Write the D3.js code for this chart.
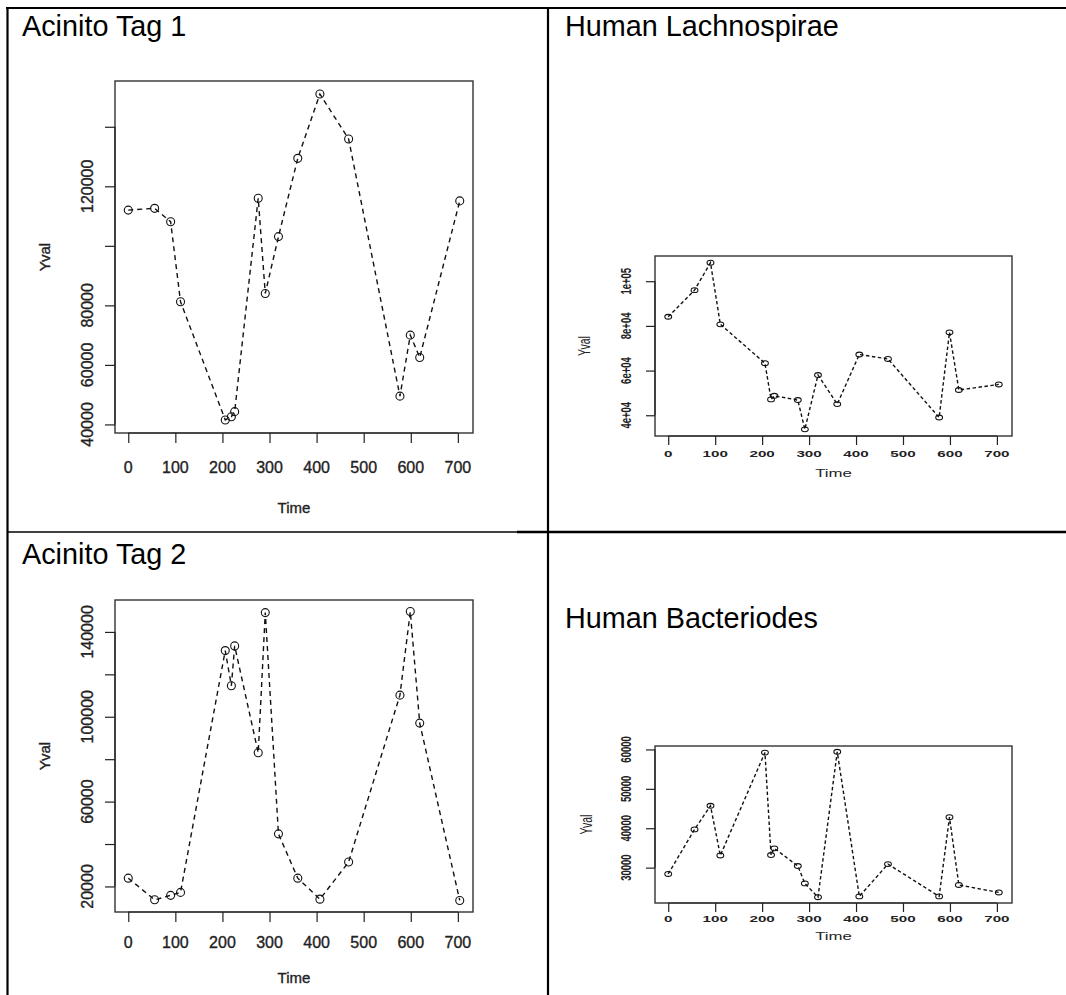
<!DOCTYPE html>
<html>
<head>
<meta charset="utf-8">
<script src="https://cdn.jsdelivr.net/npm/d3@7"></script>
<style>
  html, body { margin: 0; padding: 0; background: #fff; }
  svg { display: block; font-family: "Liberation Sans", Arial, sans-serif; }
</style>
</head>
<body>
<svg id="chart" width="1066" height="995"></svg>
<script>
// Sampling times shared by all four series
const times = [0, 56, 90, 111, 206, 219, 226, 276, 291, 319, 360, 407, 468, 577, 599, 619, 704];

// Series values
const acinitoTag1       = [112000, 112600, 108100, 81200, 41500, 42600, 44300, 116000, 84000, 103100, 129400, 151000, 135900, 49500, 70000, 62500, 115100];
const humanLachnospirae = [84100, 96000, 108300, 80700, 63300, 47100, 48700, 46800, 33700, 58000, 45000, 67200, 65200, 39000, 77100, 51300, 53800];
const acinitoTag2       = [23900, 13700, 15800, 17200, 131200, 114600, 133400, 83000, 149100, 44800, 23900, 14000, 31500, 110200, 149600, 97000, 13400];
const humanBacteriodes  = [28400, 39700, 45700, 33100, 59200, 33200, 34900, 30400, 26000, 22500, 59400, 22700, 30900, 22700, 42800, 25600, 23700];

// Axis ticks and their printed labels (empty string = tick without label)
const xTicks = [0, 100, 200, 300, 400, 500, 600, 700];
const yTicksTag1 = [40000, 60000, 80000, 100000, 120000, 140000];
const yLabelsTag1 = ["40000", "60000", "80000", "", "120000", ""];
const yTicksLachno = [40000, 60000, 80000, 100000];
const yLabelsLachno = ["4e+04", "6e+04", "8e+04", "1e+05"];
const yTicksTag2 = [20000, 40000, 60000, 80000, 100000, 120000, 140000];
const yLabelsTag2 = ["20000", "", "60000", "", "100000", "", "140000"];
const yTicksBact = [30000, 40000, 50000, 60000];
const yLabelsBact = ["30000", "40000", "50000", "60000"];

const panelTitles = ["Acinito Tag 1", "Human Lachnospirae", "Acinito Tag 2", "Human Bacteriodes"];
const xAxisTitle = "Time";
const yAxisTitle = "Yval";

const svg = d3.select("#chart");

// ---- table grid ----
const grid = svg.append("g").attr("stroke", "#000");
grid.append("line").attr("x1", 6).attr("x2", 1066).attr("y1", 8).attr("y2", 8).attr("stroke-width", 2.2);
grid.append("line").attr("x1", 7.5).attr("x2", 7.5).attr("y1", 7).attr("y2", 995).attr("stroke-width", 2.2);
grid.append("line").attr("x1", 548).attr("x2", 548).attr("y1", 7).attr("y2", 995).attr("stroke-width", 2.2);
grid.append("line").attr("x1", 7).attr("x2", 517).attr("y1", 532).attr("y2", 532).attr("stroke-width", 1.6);
grid.append("line").attr("x1", 517).attr("x2", 1066).attr("y1", 532).attr("y2", 532).attr("stroke-width", 2.4);

// ---- cell titles ----
const titlePos = [[22, 36], [565, 36], [22, 564], [565, 628]];
panelTitles.forEach((t, i) => {
  svg.append("text")
    .attr("x", titlePos[i][0]).attr("y", titlePos[i][1])
    .attr("font-size", 28.8).attr("fill", "#000")
    .text(t);
});

// R-style axis range: data extent padded by 4% on each side
function padded(values) {
  const [lo, hi] = d3.extent(values);
  const d = (hi - lo) * 0.04;
  return [lo - d, hi + d];
}

function drawPanel(cfg) {
  const g = svg.append("g");
  const x = d3.scaleLinear().domain(padded(times)).range([cfg.left, cfg.right]);
  const y = d3.scaleLinear().domain(padded(cfg.values)).range([cfg.bottom, cfg.top]);
  const sx = cfg.stretch;
  const ink = "#222";

  // plot box
  g.append("rect")
    .attr("x", cfg.left).attr("y", cfg.top)
    .attr("width", cfg.right - cfg.left).attr("height", cfg.bottom - cfg.top)
    .attr("fill", "none").attr("stroke", "#333").attr("stroke-width", 1.4);

  // x axis
  const xa = g.append("g").attr("transform", `translate(0,${cfg.bottom})`)
    .call(d3.axisBottom(x).tickValues(xTicks).tickSize(cfg.tick).tickFormat(""));
  xa.select(".domain").attr("d", `M${x(xTicks[0])},0H${x(xTicks[xTicks.length - 1])}`)
    .attr("stroke", ink).attr("stroke-width", 1.2);
  xa.selectAll(".tick line").attr("stroke", ink).attr("stroke-width", 1.2);
  xTicks.forEach(v => {
    g.append("text")
      .attr("transform", `translate(${x(v)},${cfg.bottom + cfg.xLabOff}) scale(${sx},1)`)
      .attr("text-anchor", "middle").attr("font-size", cfg.fs)
      .attr("font-weight", cfg.weight).attr("fill", ink)
      .attr("stroke", ink).attr("stroke-width", cfg.textStroke)
      .text(String(v));
  });

  // y axis
  const ya = g.append("g").attr("transform", `translate(${cfg.left},0)`)
    .call(d3.axisLeft(y).tickValues(cfg.yTicks).tickSize(cfg.tick).tickFormat(""));
  ya.select(".domain").attr("d", `M0,${y(cfg.yTicks[0])}V${y(cfg.yTicks[cfg.yTicks.length - 1])}`)
    .attr("stroke", ink).attr("stroke-width", 1.2);
  ya.selectAll(".tick line").attr("stroke", ink).attr("stroke-width", 1.2);
  cfg.yTicks.forEach((v, i) => {
    if (!cfg.yLabels[i]) return;
    g.append("text")
      .attr("transform", `translate(${cfg.yLabX},${y(v)}) scale(${sx},1) rotate(-90)`)
      .attr("text-anchor", "middle").attr("font-size", cfg.fs)
      .attr("font-weight", cfg.weight).attr("fill", ink)
      .attr("stroke", ink).attr("stroke-width", cfg.textStroke)
      .text(cfg.yLabels[i]);
  });

  // axis titles
  g.append("text")
    .attr("transform", `translate(${(cfg.left + cfg.right) / 2},${cfg.bottom + cfg.titleOff}) scale(${sx},1)`)
    .attr("text-anchor", "middle").attr("font-size", cfg.tfs).attr("fill", ink)
    .attr("stroke", ink).attr("stroke-width", cfg.textStroke)
    .text(xAxisTitle);
  g.append("text")
    .attr("transform", `translate(${cfg.yTitleX},${(cfg.top + cfg.bottom) / 2}) scale(${sx},1) rotate(-90)`)
    .attr("text-anchor", "middle").attr("font-size", cfg.tfs).attr("fill", ink)
    .attr("stroke", ink).attr("stroke-width", cfg.textStroke)
    .text(yAxisTitle);

  // dashed series line
  const pts = times.map((t, i) => [t, cfg.values[i]]);
  g.append("path")
    .datum(pts)
    .attr("d", d3.line().x(d => x(d[0])).y(d => y(d[1])))
    .attr("fill", "none").attr("stroke", "#111")
    .attr("stroke-width", cfg.lw).attr("stroke-dasharray", cfg.dash);

  // open point markers
  g.selectAll("ellipse.pt").data(pts).join("ellipse")
    .attr("class", "pt")
    .attr("cx", d => x(d[0])).attr("cy", d => y(d[1]))
    .attr("rx", cfg.rx).attr("ry", cfg.ry)
    .attr("fill", "none").attr("stroke", "#111").attr("stroke-width", 1.1);
}

const bigStyle = { stretch: 1, fs: 16, tfs: 15, weight: "normal", textStroke: 0.35, tick: 10, lw: 1.4, dash: "5,4", rx: 4, ry: 4 };
const smallStyle = { stretch: 1.6, fs: 9.5, tfs: 10.5, weight: "bold", textStroke: 0, tick: 9, lw: 1.4, dash: "3.5,2.5", rx: 3.4, ry: 2.4 };

drawPanel(Object.assign({}, bigStyle, {
  values: acinitoTag1, yTicks: yTicksTag1, yLabels: yLabelsTag1,
  left: 115, right: 473, top: 81, bottom: 433,
  xLabOff: 40, titleOff: 79.5, yLabX: 92.5, yTitleX: 50
}));
drawPanel(Object.assign({}, smallStyle, {
  values: humanLachnospirae, yTicks: yTicksLachno, yLabels: yLabelsLachno,
  left: 655, right: 1012, top: 256, bottom: 436,
  xLabOff: 20.5, titleOff: 41, yLabX: 631, yTitleX: 590
}));
drawPanel(Object.assign({}, bigStyle, {
  values: acinitoTag2, yTicks: yTicksTag2, yLabels: yLabelsTag2,
  left: 115, right: 473, top: 600, bottom: 912,
  xLabOff: 35.5, titleOff: 70.5, yLabX: 92.5, yTitleX: 50
}));
drawPanel(Object.assign({}, smallStyle, {
  values: humanBacteriodes, yTicks: yTicksBact, yLabels: yLabelsBact,
  left: 655, right: 1012, top: 746, bottom: 903,
  xLabOff: 18.5, titleOff: 37, yLabX: 631, yTitleX: 592
}));
</script>
</body>
</html>
